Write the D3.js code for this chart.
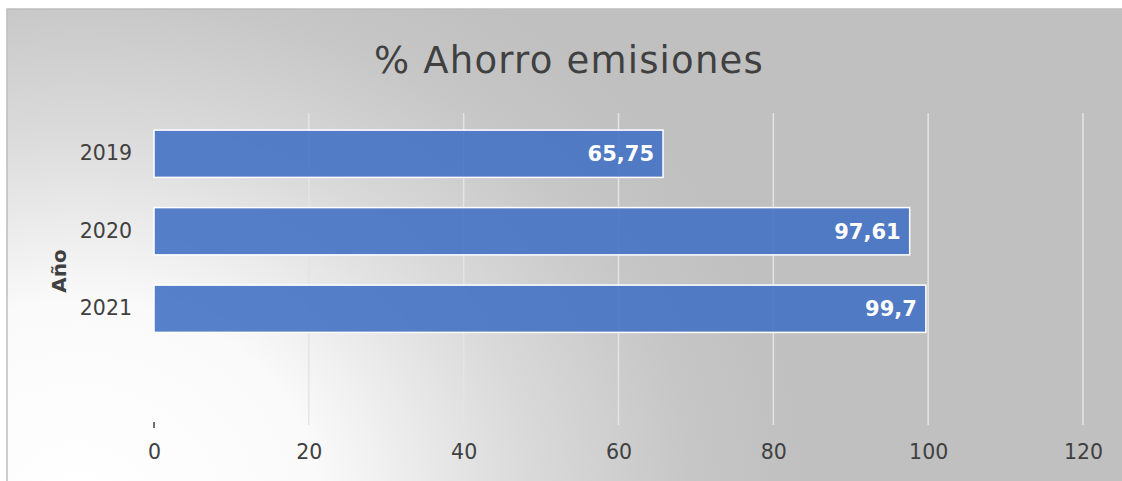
<!DOCTYPE html>
<html><head><meta charset="utf-8">
<script src="https://cdn.jsdelivr.net/npm/d3@7"></script>
<style>html,body{margin:0;padding:0;background:#fff;}svg{display:block;}</style>
</head><body>
<script>
const categories = ["2019", "2020", "2021", ""];
const values = [65.75, 97.61, 99.7, null];
const valueLabels = ["65,75", "97,61", "99,7", ""];
const xTicks = [0, 20, 40, 60, 80, 100, 120];
const title = "% Ahorro emisiones";
const yTitle = "Año";

const W = 1122, H = 481;
const svg = d3.select("body").append("svg").attr("width", W).attr("height", H);
const defs = svg.append("defs");
const rg = defs.append("radialGradient").attr("id", "bg")
  .attr("gradientUnits", "userSpaceOnUse")
  .attr("cx", 80).attr("cy", 500).attr("r", 600)
  .attr("gradientTransform", "translate(80,500) scale(1.2,1) translate(-80,-500)");
rg.append("stop").attr("offset", "0").attr("stop-color", "#ffffff");
rg.append("stop").attr("offset", "0.33").attr("stop-color", "#fafafa");
rg.append("stop").attr("offset", "0.62").attr("stop-color", "#dadada");
rg.append("stop").attr("offset", "0.85").attr("stop-color", "#c6c6c6");
rg.append("stop").attr("offset", "1").attr("stop-color", "#c0c0c0");

svg.append("rect").attr("x", 7).attr("y", 9).attr("width", W).attr("height", H)
  .attr("fill", "url(#bg)").attr("stroke", "#bdbdbd").attr("stroke-width", 1.5);

const font = "DejaVu Sans, Verdana, sans-serif";
const x = d3.scaleLinear().domain([0, 120]).range([154, 1083]);
const y = d3.scaleBand().domain(categories).range([115, 425]).paddingInner(0.39).paddingOuter(0.195);

// gridlines
svg.append("g").selectAll("line").data(xTicks.filter(d => d > 0)).join("line")
  .attr("x1", d => x(d)).attr("x2", d => x(d)).attr("y1", 113).attr("y2", 425)
  .attr("stroke", "#e4e4e4").attr("stroke-width", 1.5);

// bars
const data = categories.map((c, i) => ({c, v: values[i], l: valueLabels[i]})).filter(d => d.v != null);
svg.append("g").selectAll("rect").data(data).join("rect")
  .attr("x", x(0)).attr("y", d => y(d.c))
  .attr("width", d => x(d.v) - x(0)).attr("height", y.bandwidth())
  .attr("fill", "#4472c4").attr("fill-opacity", 0.9)
  .attr("stroke", "#ffffff").attr("stroke-width", 1.5);

svg.append("g").selectAll("text").data(data).join("text")
  .attr("x", d => x(d.v) - 9).attr("y", d => y(d.c) + y.bandwidth() / 2)
  .attr("dy", "0.36em").attr("text-anchor", "end")
  .attr("font-family", font).attr("font-weight", "bold").attr("font-size", 21)
  .attr("fill", "#ffffff").text(d => d.l);

// x axis
const xAxis = svg.append("g").attr("transform", "translate(0,425)")
  .call(d3.axisBottom(x).tickValues(xTicks).tickSize(0).tickPadding(19));
xAxis.select(".domain").remove();
xAxis.selectAll("text").attr("font-family", font).attr("font-size", 20.5).attr("fill", "#404040");
svg.append("line").attr("x1", x(0)).attr("x2", x(0)).attr("y1", 422).attr("y2", 428)
  .attr("stroke", "#404040").attr("stroke-width", 1.5);

// y axis
const yAxis = svg.append("g").attr("transform", "translate(154,0)")
  .call(d3.axisLeft(y).tickSize(0).tickPadding(22));
yAxis.select(".domain").remove();
yAxis.selectAll("text").attr("font-family", font).attr("font-size", 20.5).attr("fill", "#404040");

svg.append("text").attr("transform", "translate(66,271) rotate(-90)")
  .attr("text-anchor", "middle").attr("font-family", font).attr("font-weight", "bold")
  .attr("font-size", 20).attr("fill", "#404040").text(yTitle);

svg.append("text").attr("x", 569).attr("y", 73).attr("text-anchor", "middle")
  .attr("font-family", font).attr("font-size", 37).attr("letter-spacing", 1.2)
  .attr("fill", "#404040").text(title);
</script>
</body></html>
